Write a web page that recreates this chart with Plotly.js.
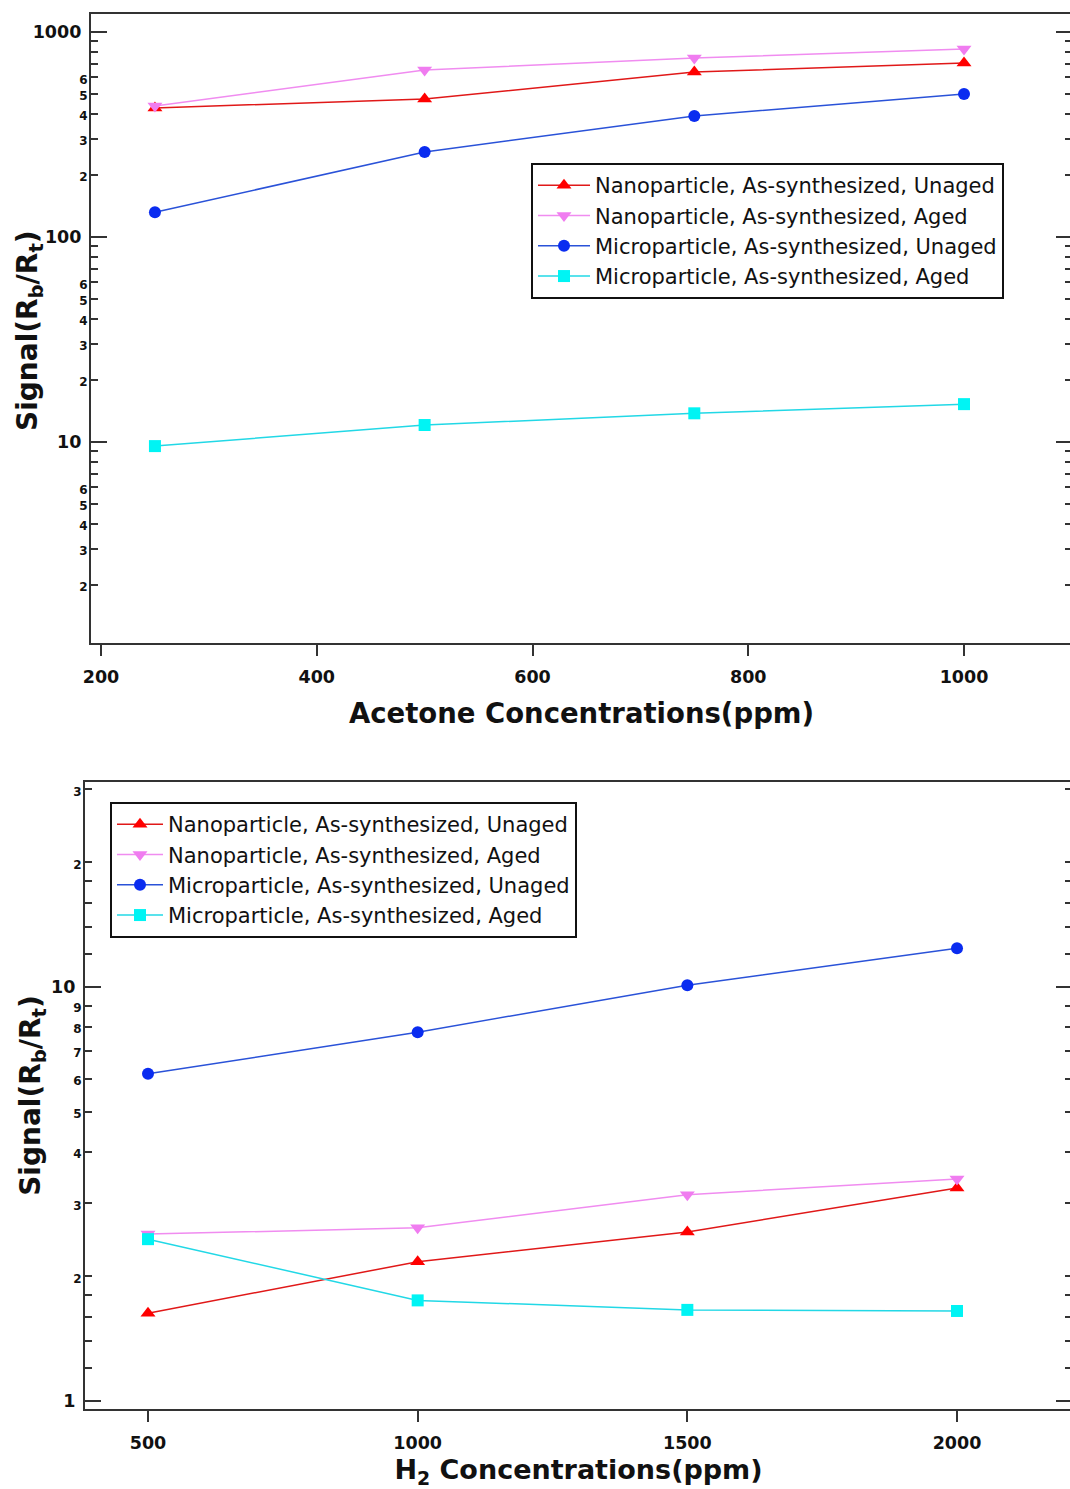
<!DOCTYPE html>
<html>
<head>
<meta charset="utf-8">
<script src="https://cdn.plot.ly/plotly-3.0.1.min.js"></script>
<style>
html,body{margin:0;padding:0;background:#fff;overflow:hidden;}
#chart{width:1075px;height:1489px;}
</style>
</head>
<body>
<div id="chart"></div>
<script>
// ---------- data ----------
const seriesNames = [
  'Nanoparticle, As-synthesized, Unaged',
  'Nanoparticle, As-synthesized, Aged',
  'Microparticle, As-synthesized, Unaged',
  'Microparticle, As-synthesized, Aged'
];
const acetoneX = [250, 500, 750, 1000];
const acetoneNanoUnaged = [426, 471, 638, 706];
const acetoneNanoAged = [435, 653, 747, 826];
const acetoneMicroUnaged = [132, 260, 389, 499];
const acetoneMicroAged = [9.55, 12.1, 13.8, 15.3];

const h2X = [500, 1000, 1500, 2000];
const h2NanoUnaged = [1.63, 2.17, 2.56, 3.27];
const h2NanoAged = [2.53, 2.62, 3.15, 3.44];
const h2MicroUnaged = [6.17, 7.78, 10.1, 12.4];
const h2MicroAged = [2.46, 1.75, 1.66, 1.65];

// tick definitions
const topXTicks = [200, 400, 600, 800, 1000];
const topDecades = [10, 100, 1000];
const topYLabelVals = [2,3,4,5,6, 10, 20,30,40,50,60, 100, 200,300,400,500,600, 1000];
const topYLabelText = ['2','3','4','5','6','10','2','3','4','5','6','100','2','3','4','5','6','1000'];
const topYUnlabeled = [7,8,9, 70,80,90, 700,800,900];

const botXTicks = [500, 1000, 1500, 2000];
const botDecades = [1, 10];
const botYLabelVals = [1, 2,3,4,5,6,7,8,9, 10, 20,30];
const botYLabelText = ['1','2','3','4','5','6','7','8','9','10','2','3'];
const botYUnlabeled = [1.2,1.4,1.6,1.8, 12,14,16,18];

// ---------- styles ----------
const FONT = 'DejaVu Sans, Verdana, sans-serif';
const styles = [
  {sym: 'triangle-up',   mcol: '#ff0000', lcol: '#e01818', size: 13},
  {sym: 'triangle-down', mcol: '#f07cf0', lcol: '#f08cf0', size: 13},
  {sym: 'circle',        mcol: '#0a2cf0', lcol: '#2a52d8', size: 12},
  {sym: 'square',        mcol: '#00f4f4', lcol: '#22d8e6', size: 12}
];

const topSeries = [acetoneNanoUnaged, acetoneNanoAged, acetoneMicroUnaged, acetoneMicroAged];
const botSeries = [h2NanoUnaged, h2NanoAged, h2MicroUnaged, h2MicroAged];

const traces = [];
topSeries.forEach((ys, i) => {
  traces.push({
    x: acetoneX, y: ys, name: seriesNames[i], type: 'scatter', mode: 'lines+markers',
    xaxis: 'x', yaxis: 'y', legend: 'legend',
    line: {color: styles[i].lcol, width: 1.5},
    marker: {symbol: styles[i].sym, color: styles[i].mcol, size: styles[i].size}
  });
});
botSeries.forEach((ys, i) => {
  traces.push({
    x: h2X, y: ys, name: seriesNames[i], type: 'scatter', mode: 'lines+markers',
    xaxis: 'x2', yaxis: 'y2', legend: 'legend2',
    line: {color: styles[i].lcol, width: 1.5},
    marker: {symbol: styles[i].sym, color: styles[i].mcol, size: styles[i].size}
  });
});

const AX = '#333333';
const W = 1075, H = 1489, ML = 80, MR = 3, MT = 14, MB = 80;
const pw = W - ML - MR, ph = H - MT - MB;
const px2x = p => (p - ML) / pw;
const px2y = p => (H - MB - p) / ph;
const TOP_LEFT = 91, BOT_LEFT = 85;

const topYRange = [0.0195, 3.0878];
const botYRange = [-0.0193, 1.4952];

// decade labels bigger, minor labels small
function fmtLabels(vals, labels, decades) {
  return labels.map((t, i) => {
    if (decades.indexOf(vals[i]) >= 0) return t + '\u00a0';
    return '<span style="font-size:12px">' + t + '</span>';
  });
}

function xAxis(dom, range, ticks, title, anchor, standoff, tsize) {
  return {
    domain: dom, range: range, anchor: anchor,
    tickmode: 'array', tickvals: ticks, ticks: 'outside', ticklen: 11, tickwidth: 2, tickcolor: AX,
    showline: true, linewidth: 2, linecolor: AX, mirror: true,
    showgrid: false, zeroline: false,
    tickfont: {family: FONT, size: 17.5, color: '#111', weight: 'bold'},
    ticklabelstandoff: 6,
    title: {text: title, font: {family: FONT, size: tsize, color: '#111', weight: 'bold'}, standoff: standoff},
    automargin: false
  };
}
function yMain(dom, range, vals, labels, decades, unlabeled, anchor, titleText) {
  return {
    domain: dom, type: 'log', range: range, anchor: anchor,
    tickmode: 'array', tickvals: vals, ticktext: fmtLabels(vals, labels, decades),
    ticks: 'inside', ticklen: 7, tickwidth: 2, tickcolor: AX,
    minor: {tickmode: 'array', tickvals: unlabeled, ticks: 'inside', ticklen: 7, tickwidth: 2, tickcolor: AX, showgrid: false},
    showline: true, linewidth: 2, linecolor: AX, mirror: 'ticks',
    showgrid: false, zeroline: false,
    tickfont: {family: FONT, size: 17.5, color: '#111', weight: 'bold'},
    ticklabelstandoff: -2,
    title: {text: titleText, font: {family: FONT, size: 28, color: '#111', weight: 'bold'}, standoff: 0},
    automargin: false
  };
}

// long ticks at the decades (left and mirrored right)
const shapes = [];
function decadeTicks(decades, yref, xref, leftPx) {
  const frac = 16 / (W - MR - leftPx);
  decades.forEach(d => {
    shapes.push({type: 'line', layer: 'above', xref: xref, yref: yref, x0: 0, x1: frac, y0: d, y1: d, line: {color: AX, width: 2}});
    shapes.push({type: 'line', layer: 'above', xref: xref, yref: yref, x0: 1 - frac, x1: 1, y0: d, y1: d, line: {color: AX, width: 2}});
  });
}
decadeTicks(topDecades, 'y', 'x domain', TOP_LEFT);
decadeTicks(botDecades, 'y2', 'x2 domain', BOT_LEFT);

const Y_TITLE = 'Signal(R<sub>b</sub>/R<sub>t</sub>)';

const layout = {
  width: W, height: H,
  margin: {l: ML, r: MR, t: MT, b: MB},
  paper_bgcolor: '#ffffff', plot_bgcolor: '#ffffff',
  font: {family: FONT, color: '#111'},
  showlegend: true,
  xaxis: xAxis([px2x(TOP_LEFT), 1], [190.73, 1100.1], topXTicks, 'Acetone Concentrations(ppm)', 'y', 18, 27.5),
  yaxis: yMain([px2y(643), 1], topYRange, topYLabelVals, topYLabelText, topDecades, topYUnlabeled, 'x', ''),
  xaxis2: xAxis([px2x(BOT_LEFT), 1], [383.2, 2213.2], botXTicks, 'H<sub>2</sub> Concentrations(ppm)', 'y2', 13, 27),
  yaxis2: yMain([0, px2y(782)], botYRange, botYLabelVals, botYLabelText, botDecades, botYUnlabeled, 'x2', Y_TITLE),
  shapes: shapes,
  annotations: [{
    text: Y_TITLE, textangle: -90, showarrow: false,
    xref: 'paper', yref: 'paper', x: px2x(29), y: px2y(331), xanchor: 'center', yanchor: 'middle',
    font: {family: FONT, size: 28, color: '#111', weight: 'bold'}
  }],
  legend: {
    x: px2x(531), y: px2y(163), xanchor: 'left', yanchor: 'top', xref: 'paper', yref: 'paper',
    bgcolor: '#ffffff', bordercolor: '#111', borderwidth: 2,
    font: {family: FONT, size: 21, color: '#111'}, itemwidth: 52, tracegroupgap: 0
  },
  legend2: {
    x: px2x(110), y: px2y(802), xanchor: 'left', yanchor: 'top', xref: 'paper', yref: 'paper',
    bgcolor: '#ffffff', bordercolor: '#111', borderwidth: 2,
    font: {family: FONT, size: 21, color: '#111'}, itemwidth: 46, tracegroupgap: 0
  }
};

Plotly.newPlot('chart', traces, layout, {staticPlot: true, displayModeBar: false});
</script>
</body>
</html>
